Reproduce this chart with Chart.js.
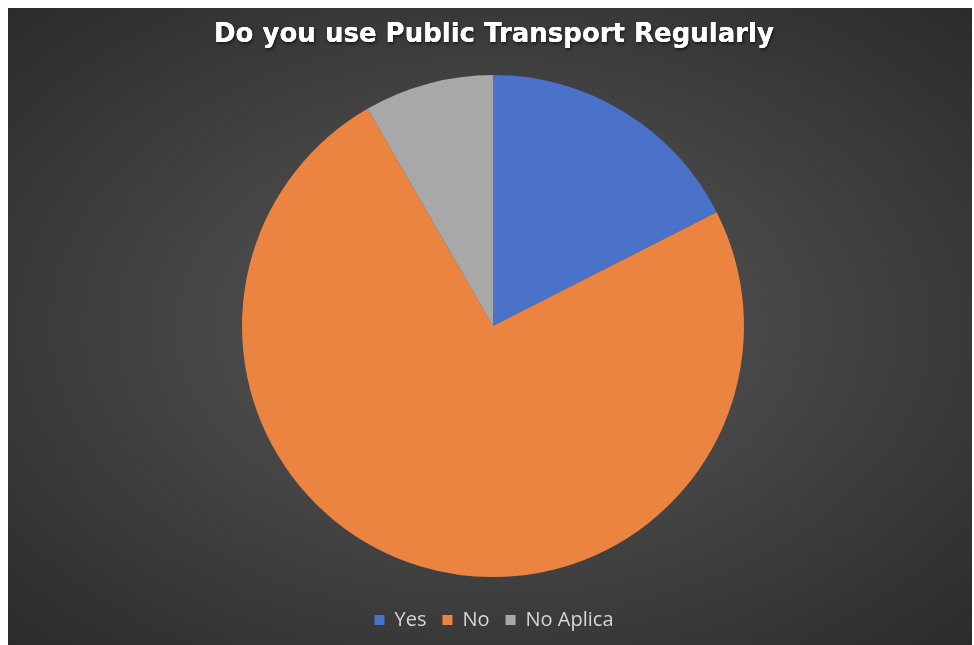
<!DOCTYPE html>
<html>
<head>
<meta charset="utf-8">
<script src="https://cdn.jsdelivr.net/npm/chart.js@4/dist/chart.umd.min.js"></script>
<style>
  html, body { margin: 0; padding: 0; background: #ffffff; }
  #frame {
    position: absolute; left: 8px; top: 8px; width: 964px; height: 637px;
    background: radial-gradient(ellipse farthest-corner at 50% 50%, #5a5a5a 0%, #474747 40%, #2b2b2b 100%);
  }
  canvas { display: block; }
</style>
</head>
<body>
<div id="frame"><canvas id="c" width="964" height="637"></canvas></div>
<script>
// Survey answers
const categories = ["Yes", "No", "No Aplica"];
const responses = [21, 89, 10];
const sliceColors = ["#4a72c9", "#ea8440", "#a8a8a8"];
const chartTitle = "Do you use Public Transport Regularly";

// Soft drop shadow behind the title text only
const titleShadow = {
  id: "titleShadow",
  beforeDraw(chart) {
    const ctx = chart.ctx;
    const t = chart.titleBlock;
    if (!t) return;
    ctx.save();
    ctx.shadowColor = "rgba(0,0,0,0.55)";
    ctx.shadowBlur = 3;
    ctx.shadowOffsetX = 1;
    ctx.shadowOffsetY = 2;
    t.draw();
    ctx.restore();
  }
};

new Chart(document.getElementById("c"), {
  type: "pie",
  data: {
    labels: categories,
    datasets: [{
      data: responses,
      backgroundColor: sliceColors,
      borderWidth: 0,
      radius: 251
    }]
  },
  options: {
    responsive: false,
    animation: false,
    layout: { padding: { left: 6, right: -2, bottom: 5 } },
    plugins: {
      tooltip: { enabled: false },
      title: {
        display: true,
        text: chartTitle,
        color: "#ffffff",
        font: { family: "DejaVu Sans", size: 26, weight: "bold" },
        padding: { top: 12, bottom: 7 }
      },
      legend: {
        position: "bottom",
        labels: {
          color: "#d6d6d6",
          font: { family: "Open Sans", size: 20 },
          boxWidth: 10,
          boxHeight: 10,
          padding: 16
        }
      }
    }
  },
  plugins: [titleShadow]
});
</script>
</body>
</html>
